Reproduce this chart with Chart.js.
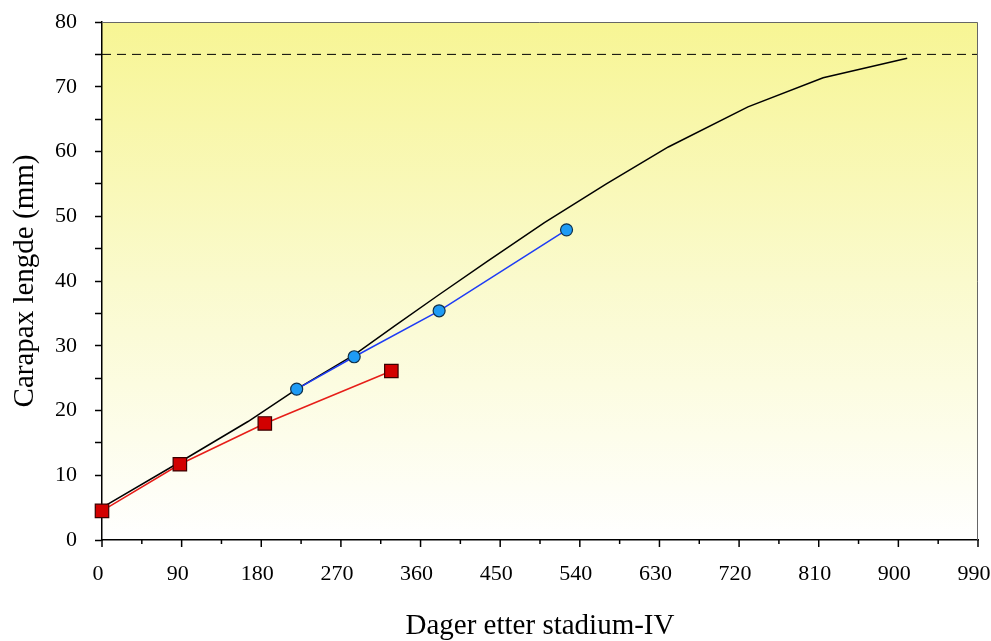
<!DOCTYPE html>
<html>
<head>
<meta charset="utf-8">
<script src="https://cdn.jsdelivr.net/npm/chart.js@4"></script>
<style>
  body { margin: 0; background: #fff; }
  #wrap { width: 991px; height: 641px; }
</style>
</head>
<body>
<div id="wrap"><canvas id="growthChart"></canvas></div>
<script>
// Data
const curveDays = [0, 90, 165, 220, 285, 330, 380, 435, 500, 570, 640, 730, 815, 910];
const curveLength = [5.0, 12.2, 18.3, 23.3, 28.6, 33.0, 37.8, 43.0, 49.0, 55.0, 60.7, 66.9, 71.4, 74.4];

const redDays = [0, 88, 184, 327];
const redLength = [4.5, 11.7, 18.0, 26.1];

const blueDays = [220, 285, 381, 525];
const blueLength = [23.3, 28.3, 35.4, 47.9];

const asymptote = 75;
const xTicks = [0, 90, 180, 270, 360, 450, 540, 630, 720, 810, 900, 990];
const yTicks = [0, 10, 20, 30, 40, 50, 60, 70, 80];

const pts = (xs, ys) => xs.map((x, i) => ({ x: x, y: ys[i] }));

// yellow to white fill behind the plot + frame and minor x ticks
const plotDecor = {
    id: 'plotDecor',
    beforeDraw(chart) {
        const { ctx, chartArea: a } = chart;
        const g = ctx.createLinearGradient(0, a.top, 0, a.bottom);
        g.addColorStop(0, 'rgb(247,245,148)');
        g.addColorStop(0.5, 'rgb(250,250,205)');
        g.addColorStop(1, 'rgb(255,255,255)');
        ctx.save();
        ctx.fillStyle = g;
        ctx.fillRect(a.left, a.top, a.right - a.left, a.bottom - a.top);
        ctx.restore();
    },
    afterDraw(chart) {
        const { ctx, chartArea: a } = chart;
        const xs = chart.scales.x;
        ctx.save();
        ctx.strokeStyle = '#666';
        ctx.lineWidth = 1;
        ctx.beginPath();
        ctx.moveTo(a.left, a.top + 0.5);
        ctx.lineTo(a.right - 0.5, a.top + 0.5);
        ctx.lineTo(a.right - 0.5, a.bottom);
        ctx.stroke();
        ctx.strokeStyle = '#000';
        ctx.lineWidth = 1.5;
        xs.ticks.forEach(t => {
            const px = xs.getPixelForValue(t.value);
            const len = t.value % 90 === 0 ? 7 : 4;
            ctx.beginPath();
            ctx.moveTo(px, a.bottom);
            ctx.lineTo(px, a.bottom + len);
            ctx.stroke();
        });
        ctx.restore();
    }
};

const serif = 'Liberation Serif';

new Chart(document.getElementById('growthChart'), {
    type: 'line',
    data: {
        datasets: [
            {
                data: pts(redDays, redLength),
                borderColor: 'rgb(230,30,25)',
                borderWidth: 1.5,
                pointStyle: 'rect',
                pointRadius: 9.5,
                pointBackgroundColor: 'rgb(210,0,0)',
                pointBorderColor: '#3a0000',
                pointBorderWidth: 1.2,
                tension: 0,
                clip: false
            },
            {
                data: pts(blueDays, blueLength),
                borderColor: 'rgb(30,60,245)',
                borderWidth: 1.5,
                pointStyle: 'circle',
                pointRadius: 6,
                pointBackgroundColor: 'rgb(30,155,245)',
                pointBorderColor: '#10304a',
                pointBorderWidth: 1.2,
                tension: 0,
                clip: false
            },
            {
                data: pts(curveDays, curveLength),
                borderColor: '#000',
                borderWidth: 1.5,
                pointRadius: 0,
                tension: 0
            },
            {
                data: [{ x: 0, y: asymptote }, { x: 990, y: asymptote }],
                borderColor: '#000',
                borderWidth: 1,
                borderDash: [9, 6],
                pointRadius: 0
            }
        ]
    },
    options: {
        responsive: true,
        maintainAspectRatio: false,
        animation: false,
        devicePixelRatio: 1,
        layout: { padding: { top: 22, right: 13, left: 0, bottom: 0 } },
        plugins: { legend: { display: false }, tooltip: { enabled: false } },
        scales: {
            x: {
                type: 'linear',
                min: 0,
                max: 990,
                afterFit: s => {
                    s.height = 101;
                    s.paddingLeft = 0;
                    s.paddingRight = 0;
                },
                afterBuildTicks: s => {
                    s.ticks = [];
                    for (let v = 0; v <= 990; v += 45) s.ticks.push({ value: v });
                },
                ticks: {
                    autoSkip: false,
                    maxRotation: 0,
                    padding: 21,
                    labelOffset: -4,
                    color: '#000',
                    font: { family: serif, size: 22 },
                    callback: v => xTicks.includes(v) ? String(v) : ''
                },
                grid: { display: true, drawOnChartArea: false, drawTicks: false },
                border: { display: true, color: '#000', width: 1.5 },
                title: {
                    display: true,
                    text: 'Dager etter stadium-IV',
                    color: '#000',
                    font: { family: serif, size: 29, lineHeight: 1.0 },
                    padding: { top: 0, bottom: 0 }
                }
            },
            y: {
                type: 'linear',
                min: 0,
                max: 80,
                afterFit: s => {
                    s.width = 102;
                    s.paddingTop = 0;
                    s.paddingBottom = 0;
                },
                ticks: {
                    stepSize: 5,
                    autoSkip: false,
                    padding: 18,
                    color: '#000',
                    font: { family: serif, size: 22 },
                    callback: v => yTicks.includes(v) ? String(v) : ''
                },
                grid: {
                    display: true,
                    drawOnChartArea: false,
                    drawTicks: true,
                    tickLength: 7,
                    tickWidth: 1.5,
                    tickColor: '#000'
                },
                border: { display: true, color: '#000', width: 1.5 },
                title: {
                    display: true,
                    text: 'Carapax lengde (mm)',
                    color: '#000',
                    font: { family: serif, size: 29, lineHeight: 1.0 },
                    padding: { top: 11, bottom: 0 }
                }
            }
        }
    },
    plugins: [plotDecor]
});
</script>
</body>
</html>
